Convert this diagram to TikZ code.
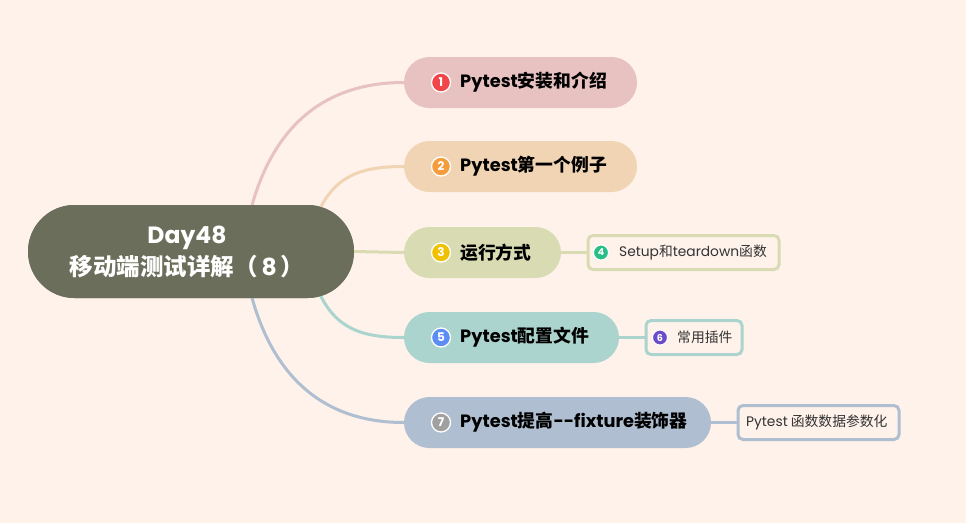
\documentclass[tikz,border=0pt]{standalone}
\usepackage{fontspec}
\setmainfont{Noto Sans CJK SC}
\newfontfamily\lat{Poppins}
\newfontfamily\cjk{Noto Sans CJK SC}
\definecolor{bg}{HTML}{FEF2EA}
\definecolor{rootc}{HTML}{6B6E5A}
\definecolor{c1}{HTML}{E7C2C1}
\definecolor{c2}{HTML}{F1D4B3}
\definecolor{c3}{HTML}{D9DCB2}
\definecolor{c5}{HTML}{AAD4CD}
\definecolor{c7}{HTML}{AFBED0}
\definecolor{i1}{HTML}{F0464A}
\definecolor{i2}{HTML}{F59D3D}
\definecolor{i3}{HTML}{EFC100}
\definecolor{i4}{HTML}{27BE87}
\definecolor{i5}{HTML}{5C8DF5}
\definecolor{i6}{HTML}{6A4CC8}
\definecolor{i7}{HTML}{A0A0A0}
\definecolor{subtext}{HTML}{333333}
\begin{document}
\begin{tikzpicture}[x=1pt,y=-1pt,
  mainbox/.style={rectangle,rounded corners=25.5pt,minimum height=51pt,inner sep=0pt,draw=none},
  subbox/.style={rectangle,rounded corners=5pt,minimum height=34pt,inner sep=0pt,fill=bg,line width=3pt},
  maintext/.style={anchor=west,inner sep=0pt,font=\bfseries\fontsize{17.8}{19}\selectfont,text=black},
  subtext/.style={anchor=west,inner sep=0pt,font=\fontsize{13.8}{15}\selectfont,text=subtext},
  bigicon/.style={circle,draw=white,line width=1.3pt,minimum size=19pt,inner sep=0pt,text=white,font=\lat\bfseries\fontsize{12}{12}\selectfont},
  smallicon/.style={circle,draw=white,line width=1pt,minimum size=15pt,inner sep=0pt,text=white,font=\lat\bfseries\fontsize{9.5}{9.5}\selectfont},
  link/.style={line width=3pt},
]
\fill[bg] (0,0) rectangle (966,523);
\useasboundingbox (0,0) rectangle (966,523);

% root (back copy, hides connector ends)
\node[mainbox,fill=rootc,rounded corners=46.5pt,minimum width=326pt,minimum height=93pt] (root) at (191,251.5) {};

% branches
\node[mainbox,fill=c1,minimum width=233pt] (b1) at (520.5,82.5) {};
\node[mainbox,fill=c2,minimum width=233pt] (b2) at (520.5,166.5) {};
\node[mainbox,fill=c3,minimum width=157pt] (b3) at (482.5,252.5) {};
\node[mainbox,fill=c5,minimum width=215pt] (b5) at (511.5,337.5) {};
\node[mainbox,fill=c7,minimum width=307pt] (b7) at (557.5,422.5) {};

% sub boxes
\node[subbox,draw=c3,minimum width=191pt] (s4) at (683.5,252.5) {};
\node[subbox,draw=c5,minimum width=96pt] (s6) at (694,337.5) {};
\node[subbox,draw=c7,minimum width=161pt] (s7) at (818.5,422.5) {};

% connectors
\draw[link,c1] ([xshift=60pt,yshift=-4pt]root.north) .. controls (275,120) and (330,82.5) .. (b1.west);
\draw[link,c2] ([xshift=127pt,yshift=-8pt]root.north) .. controls (335,175) and (362,166.5) .. (b2.west);
\draw[link,c3] (root.east) -- (b3.west);
\draw[link,c5] ([xshift=127pt,yshift=8pt]root.south) .. controls (335,329) and (362,337.5) .. (b5.west);
\draw[link,c7] ([xshift=60pt,yshift=4pt]root.south) .. controls (275,384) and (330,422.5) .. (b7.west);
\draw[link,c3] (b3.east) -- (s4.west);
\draw[link,c5] (b5.east) -- (s6.west);
\draw[link,c7] (b7.east) -- (s7.west);

% root on top of connector ends
\node[mainbox,fill=rootc,rounded corners=46.5pt,minimum width=326pt,minimum height=93pt] (rootfront) at (191,251.5) {};
\node[align=center,text=white,font=\bfseries\fontsize{23.5}{32}\selectfont] (roottext) at (187,252) {{\lat Day48}\\移动端测试详解（{\lat\,8\,}）};

% branch contents
\node[bigicon,fill=i1] (ic1) at (441,82.5) {1};
\node[maintext] (t1) at (460,82.5) {{\lat Pytest}安装和介绍};
\node[bigicon,fill=i2] (ic2) at (441,166.5) {2};
\node[maintext] (t2) at (460,166.5) {{\lat Pytest}第一个例子};
\node[bigicon,fill=i3] (ic3) at (441,252.5) {3};
\node[maintext] (t3) at (460,252.5) {运行方式};
\node[bigicon,fill=i5] (ic5) at (441,337.5) {5};
\node[maintext] (t5) at (460,337.5) {{\lat Pytest}配置文件};
\node[bigicon,fill=i7] (ic7) at (441,422.5) {7};
\node[maintext] (t7) at (460,422.5) {{\lat Pytest}提高{\lat --fixture}装饰器};

% sub contents
\node[smallicon,fill=i4] (ic4) at (601,252.5) {4};
\node[subtext] (t4) at (619,252.5) {{\lat Setup}和{\lat teardown}函数};
\node[smallicon,fill=i6] (ic6) at (660,337.5) {6};
\node[subtext] (t6) at (677,337.5) {常用插件};
\node[subtext] (t7s) at (746,422.5) {{\lat Pytest} 函数数据参数化};
\end{tikzpicture}
\end{document}
